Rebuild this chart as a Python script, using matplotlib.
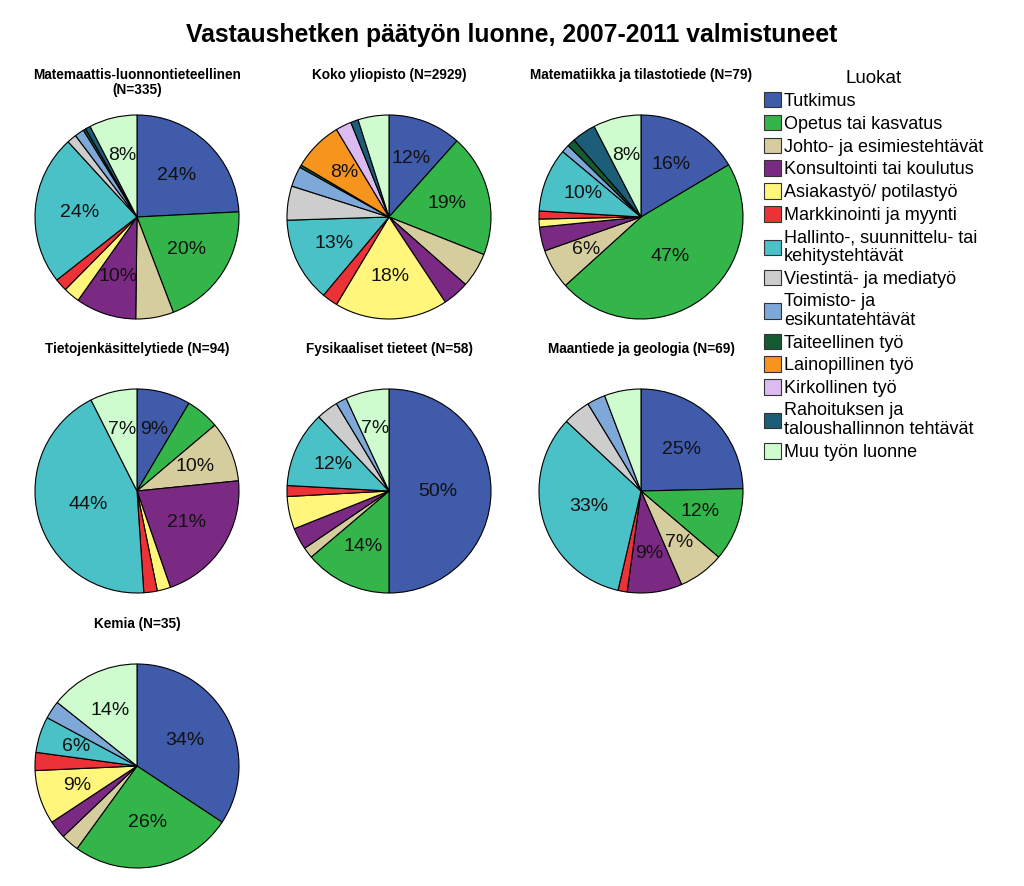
"""Pie grid: main job type at time of survey, graduates 2007-2011."""

import matplotlib
matplotlib.use("Agg")
import matplotlib.pyplot as plt
from matplotlib.patches import Patch
import numpy as np

plt.rcParams["font.family"] = ["Liberation Sans", "DejaVu Sans"]

# ── Data ──────────────────────────────────────────────────────────────────────
categories = [
    "Tutkimus",
    "Opetus tai kasvatus",
    "Johto- ja esimiestehtävät",
    "Konsultointi tai koulutus",
    "Asiakastyö/ potilastyö",
    "Markkinointi ja myynti",
    "Hallinto-, suunnittelu- tai\nkehitystehtävät",
    "Viestintä- ja mediatyö",
    "Toimisto- ja\nesikuntatehtävät",
    "Taiteellinen työ",
    "Lainopillinen työ",
    "Kirkollinen työ",
    "Rahoituksen ja\ntaloushallinnon tehtävät",
    "Muu työn luonne",
]
colors = [
    "#3F5BAA", "#33B54A", "#D5CD9E", "#7B2A83", "#FFF67B", "#EC3237", "#4AC0C7",
    "#CDCDCD", "#7EA8D8", "#145B32", "#F7941E", "#DBBBF0", "#1C5D78", "#CEFCCE",
]

titles = [
    "Matemaattis-luonnontieteellinen\n(N=335)",
    "Koko yliopisto (N=2929)",
    "Matematiikka ja tilastotiede (N=79)",
    "Tietojenkäsittelytiede (N=94)",
    "Fysikaaliset tieteet (N=58)",
    "Maantiede ja geologia (N=69)",
    "Kemia (N=35)",
]

# shares per category, same order as `categories` (percent or counts)
mat_luonn = [24.2, 20.0, 6.0, 9.6, 2.6, 2.0, 23.8, 1.5, 1.5, 0.4, 0, 0, 0.8, 7.6]
koko_yo = [11.6, 19.4, 5.5, 4.2, 17.9, 2.5, 13.4, 5.4, 3.2, 0.4, 7.9, 2.5, 1.2, 4.9]
matematiikka = [13, 37, 5, 3, 1, 1, 8, 0, 1, 1, 0, 0, 3, 6]
tietojenk = [8, 5, 9, 20, 2, 2, 41, 0, 0, 0, 0, 0, 0, 7]
fysikaaliset = [29, 8, 1, 2, 3, 1, 7, 2, 1, 0, 0, 0, 0, 4]
maantiede = [17, 8, 5, 6, 0, 1, 23, 3, 2, 0, 0, 0, 0, 4]
kemia = [12, 9, 1, 1, 3, 1, 2, 0, 1, 0, 0, 0, 0, 5]

# categories that carry a percentage label in each pie
labeled = [
    [0, 1, 3, 6, 13],
    [0, 1, 4, 6, 10],
    [0, 1, 2, 6, 13],
    [0, 2, 3, 6, 13],
    [0, 1, 6, 13],
    [0, 1, 2, 3, 6],
    [0, 1, 4, 6, 13],
]

pies = [mat_luonn, koko_yo, matematiikka, tietojenk, fysikaaliset, maantiede, kemia]

# ── Layout (pixels) ───────────────────────────────────────────────────────────
W, H = 1024, 886
COL_X = [137, 389, 641]
ROW_Y = [217, 491, 766]
R = 102


def fx(px):
    return px / W


def fy(py):
    return 1 - py / H


fig = plt.figure(figsize=(W / 100, H / 100), dpi=100)
fig.patch.set_facecolor("white")

fig.text(fx(512), fy(35), "Vastaushetken päätyön luonne, 2007-2011 valmistuneet",
         ha="center", va="center", fontsize=17.8, fontweight="bold")

for i, (vals, title) in enumerate(zip(pies, titles)):
    cx, cy = COL_X[i % 3], ROW_Y[i // 3]
    pad = R + 3
    ax = fig.add_axes([fx(cx - pad), fy(cy + pad), 2 * pad / W, 2 * pad / H])

    idx = [k for k, v in enumerate(vals) if v > 0]
    sizes = [vals[k] for k in idx]
    wedges, _ = ax.pie(sizes, colors=[colors[k] for k in idx], startangle=90,
                       counterclock=False, radius=1.0,
                       wedgeprops=dict(edgecolor="black", linewidth=0.8))
    # pie() resets limits to +-1.25, so fix them afterwards
    lim = pad / R
    ax.set_xlim(-lim, lim)
    ax.set_ylim(-lim, lim)
    ax.set_aspect("equal")
    ax.axis("off")

    total = float(sum(vals))
    for w, k in zip(wedges, idx):
        if k not in labeled[i]:
            continue
        frac = vals[k] / total
        mid = np.deg2rad((w.theta1 + w.theta2) / 2)
        r = 0.65 - 0.35 * frac
        ax.text(r * np.cos(mid), r * np.sin(mid), f"{int(frac * 100 + 0.5)}%",
                ha="center", va="center", fontsize=14, color="#111111")

    fig.text(fx(cx), fy(cy - 149), title, ha="center", va="top",
             fontsize=9.8, fontweight="bold", linespacing=1.1)

handles = [Patch(facecolor=c, edgecolor="#333333", linewidth=0.8) for c in colors]
leg = fig.legend(handles, categories, loc="upper left",
                 bbox_to_anchor=(fx(764), fy(70)), frameon=False,
                 fontsize=13, title="Luokat", title_fontsize=13.5,
                 handlelength=0.95, handleheight=0.95, handletextpad=0.15,
                 labelspacing=0.27, borderaxespad=0, borderpad=0)
for t in leg.get_texts():
    t.set_linespacing(1.15)

fig.savefig("out.png", dpi=100)
